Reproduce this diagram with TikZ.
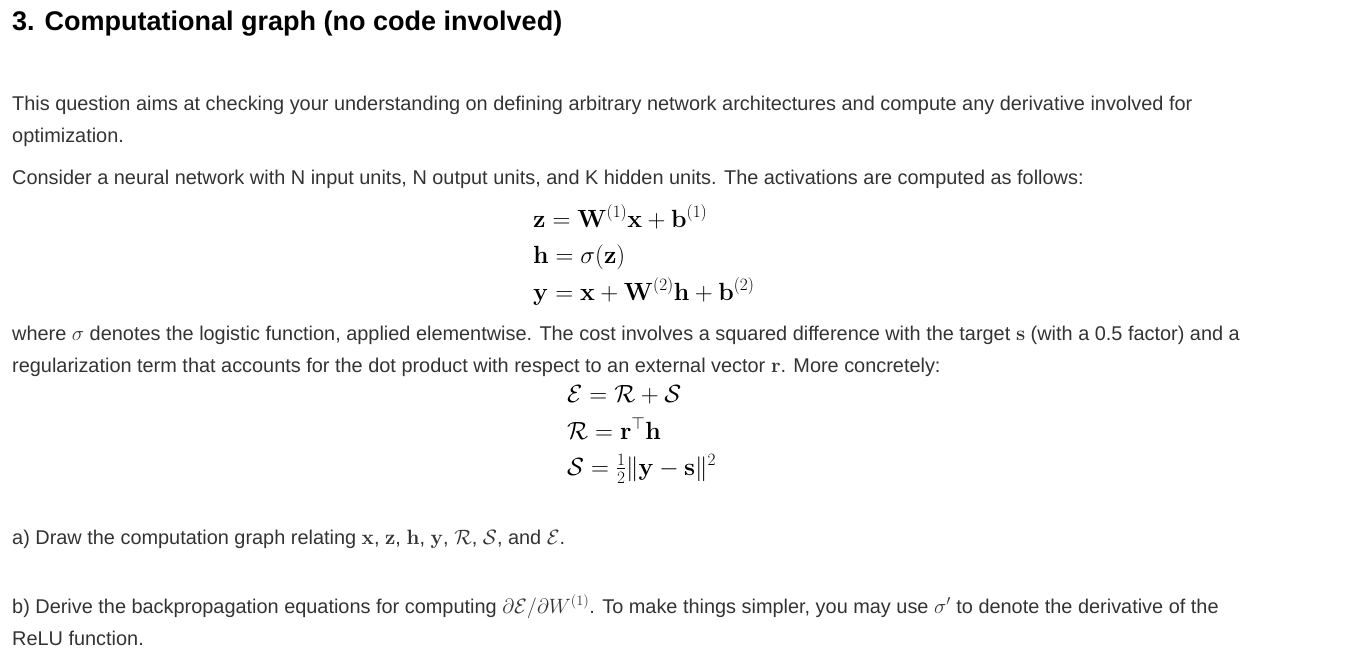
\documentclass[tikz,border=0pt]{standalone}
\usepackage{amsmath,amssymb}
\usepackage[no-math]{fontspec}
\setmainfont{Liberation Sans}
\definecolor{txt}{HTML}{333333}
\begin{document}
\begin{tikzpicture}[x=1pt,y=-1pt,
  t/.style={anchor=base west,inner sep=0pt,text=txt,font=\fontsize{19.9}{24}\selectfont},
  m/.style={anchor=base west,inner sep=0pt,text=black,font=\fontsize{24}{28}\selectfont}]
\useasboundingbox (0,0) rectangle (1346,656);
\node[t,font=\fontsize{27}{32}\selectfont\bfseries,text=black] (title) at (12,30) {3. Computational graph (no code involved)};
\node[t] (p1) at (12,110) {This question aims at checking your understanding on defining arbitrary network architectures and compute any derivative involved for};
\node[t] (p2) at (12,142) {optimization.};
\node[t] (p3) at (12,184) {Consider a neural network with N input units, N output units, and K hidden units. The activations are computed as follows:};
\node[m] (e1) at (533,227) {$\mathbf{z}=\mathbf{W}^{(1)}\mathbf{x}+\mathbf{b}^{(1)}$};
\node[m] (e2) at (533,263) {$\mathbf{h}=\sigma(\mathbf{z})$};
\node[m] (e3) at (533,300) {$\mathbf{y}=\mathbf{x}+\mathbf{W}^{(2)}\mathbf{h}+\mathbf{b}^{(2)}$};
\node[t] (p4) at (12,340) {where $\sigma$ denotes the logistic function, applied elementwise. The cost involves a squared difference with the target $\mathbf{s}$ (with a 0.5 factor) and a};
\node[t] (p5) at (12,372) {regularization term that accounts for the dot product with respect to an external vector $\mathbf{r}$. More concretely:};
\node[m] (f1) at (567,402) {$\mathcal{E}=\mathcal{R}+\mathcal{S}$};
\node[m] (f2) at (567,439) {$\mathcal{R}=\mathbf{r}^{\top}\mathbf{h}$};
\node[m] (f3) at (567,475) {$\mathcal{S}=\tfrac{1}{2}\|\mathbf{y}-\mathbf{s}\|^2$};
\node[t] (pa) at (12,544) {a) Draw the computation graph relating $\mathbf{x}$, $\mathbf{z}$, $\mathbf{h}$, $\mathbf{y}$, $\mathcal{R}$, $\mathcal{S}$, and $\mathcal{E}$.};
\node[t] (pb) at (12,613) {b) Derive the backpropagation equations for computing $\partial\mathcal{E}/\partial W^{(1)}$. To make things simpler, you may use $\sigma'$ to denote the derivative of the};
\node[t] (pc) at (12,645) {ReLU function.};
\end{tikzpicture}
\end{document}
